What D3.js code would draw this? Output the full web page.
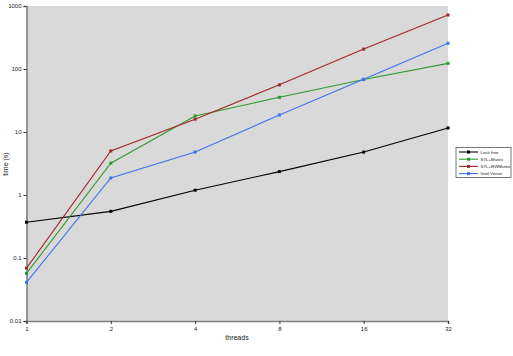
<!DOCTYPE html>
<html><head><meta charset="utf-8">
<script src="https://cdn.jsdelivr.net/npm/d3@7"></script>
<style>body{margin:0;background:#fff;}svg{display:block;font-family:"Liberation Sans",Arial,sans-serif;}</style>
</head><body><svg id="c" width="513" height="356"></svg>
<script>
const threads = ["1","2","4","8","16","32"];
const lockFree = [0.37, 0.55, 1.19, 2.35, 4.8, 11.6];
const stlMutex = [0.057, 3.2, 18, 35.5, 68, 123];
const stlRWMutex = [0.069, 5.0, 16, 56, 207, 720];
const intelVector = [0.041, 1.86, 4.8, 18.6, 69, 256];
const seriesNames = ["Lock free", "STL+Mutex", "STL+RWMutex", "Intel Vector"];
const seriesColors = ["#000000", "#2e9a2e", "#a02828", "#3f73f0"];
const yTicks = [0.01, 0.1, 1, 10, 100, 1000];

const series = [lockFree, stlMutex, stlRWMutex, intelVector];
const svg = d3.select("#c");
const L = 26.5, R = 448, T = 6, B = 321;
const x = d3.scalePoint().domain(threads).range([L, R]);
const y = d3.scaleLog().domain([0.01, 1000]).range([B, T]);

svg.append("rect").attr("x", L).attr("y", T).attr("width", R - L).attr("height", B - T).attr("fill", "#d9d9d9");

const yAxis = svg.append("g").attr("transform", `translate(${L},0)`)
  .call(d3.axisLeft(y).tickValues(yTicks).tickFormat(d => String(d)).tickSize(3).tickPadding(2));
const xAxis = svg.append("g").attr("transform", `translate(0,${B})`)
  .call(d3.axisBottom(x).tickSize(3).tickPadding(3));
[yAxis, xAxis].forEach(g => {
  g.select(".domain").attr("stroke", "#808080").attr("stroke-width", 1.6);
  g.selectAll(".tick line").attr("stroke", "#333");
  g.selectAll("text").attr("font-size", 6).attr("fill", "#222").attr("font-family", "Liberation Sans, Arial, sans-serif");
});

const line = d3.line().x((d, i) => x(threads[i])).y(d => y(d));
series.forEach((s, k) => {
  svg.append("path").attr("d", line(s)).attr("fill", "none").attr("stroke", seriesColors[k]).attr("stroke-width", 1.1);
  svg.selectAll(null).data(s).enter().append("rect")
    .attr("x", (d, i) => x(threads[i]) - 1.5).attr("y", d => y(d) - 1.5)
    .attr("width", 3).attr("height", 3).attr("fill", seriesColors[k]);
});

svg.append("text").attr("x", 237).attr("y", 340).attr("text-anchor", "middle").attr("font-size", 7).attr("fill", "#222").text("threads");
svg.append("text").attr("transform", "translate(8,164) rotate(-90)").attr("text-anchor", "middle").attr("font-size", 7).attr("fill", "#222").text("time (s)");

const lg = svg.append("g");
lg.append("rect").attr("x", 456).attr("y", 147.5).attr("width", 55).attr("height", 30).attr("fill", "#fff").attr("stroke", "#555").attr("stroke-width", 0.8);
seriesNames.forEach((n, k) => {
  const yy = 152 + k * 7.2;
  lg.append("line").attr("x1", 459).attr("x2", 478).attr("y1", yy).attr("y2", yy).attr("stroke", seriesColors[k]).attr("stroke-width", 1.1);
  lg.append("rect").attr("x", 467).attr("y", yy - 1.5).attr("width", 3).attr("height", 3).attr("fill", seriesColors[k]);
  lg.append("text").attr("x", 480.5).attr("y", yy + 1.7).attr("font-size", 4.4).attr("fill", "#222").text(n);
});
</script></body></html>
